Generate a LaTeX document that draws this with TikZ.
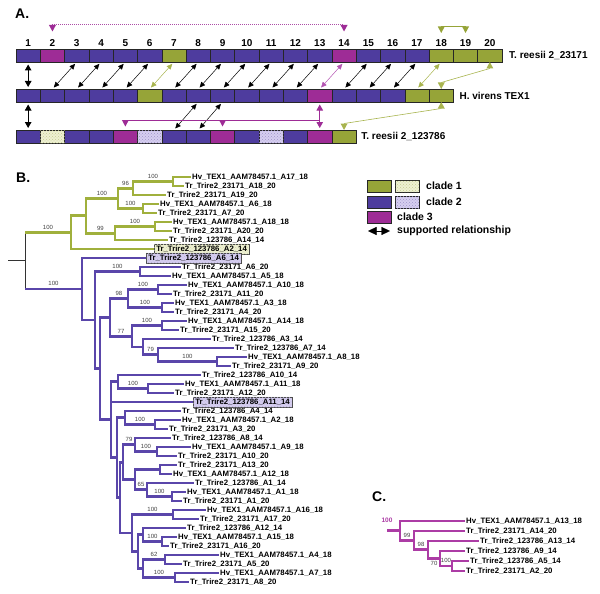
\documentclass[tikz,border=0pt]{standalone}
\usepackage{fontspec}
\setmainfont{Liberation Sans}
\usetikzlibrary{positioning,arrows.meta,patterns,calc}
\definecolor{cladeG}{RGB}{150,164,56}
\definecolor{cladeP}{RGB}{78,60,158}
\definecolor{cladeM}{RGB}{158,44,150}
\definecolor{treeG}{RGB}{160,176,60}
\definecolor{treeP}{RGB}{90,70,170}
\definecolor{treeM}{RGB}{172,60,165}
\definecolor{paleG}{RGB}{238,240,210}
\definecolor{paleP}{RGB}{214,206,240}
\definecolor{arrG}{RGB}{168,180,78}
\definecolor{arrM}{RGB}{180,84,178}

\begin{document}
\begin{tikzpicture}[x=1pt,y=-1pt,
  seg/.style={draw=black!85,line width=0.6pt,minimum width=24.3pt,minimum height=13pt,inner sep=0pt,outer sep=0pt},
  key/.style={seg,minimum width=24pt,minimum height=12pt},
  num/.style={font=\fontsize{10}{11}\selectfont\bfseries,inner sep=0pt},
  rowlab/.style={font=\fontsize{10}{11}\selectfont\bfseries,inner sep=0pt},
  legtxt/.style={font=\fontsize{10.5}{12}\selectfont\bfseries,inner sep=0pt,anchor=west},
  panel/.style={font=\fontsize{14}{15}\selectfont\bfseries,inner sep=0pt,anchor=west},
  link/.style={{Triangle[length=5.5pt,width=5pt]}-{Triangle[length=5.5pt,width=5pt]},line width=0.5pt,shorten <=2.5pt,shorten >=2pt},
  biglink/.style={{Triangle[length=6pt,width=6.5pt]}-{Triangle[length=6pt,width=6.5pt]},line width=1pt,shorten <=2.5pt,shorten >=2pt},
  hang/.pic={\fill (-3.5,0) -- (3.5,0) -- (0,6.5) -- cycle;},
  lift/.pic={\fill (-3.5,0) -- (3.5,0) -- (0,-6.5) -- cycle;},
  leaf/.style={font=\fontsize{7.8}{8}\selectfont\bfseries,inner sep=1pt,anchor=west,text height=5.6pt,text depth=0.4pt},
  hlG/.style={leaf,draw=black!70,line width=0.5pt,fill=paleG,inner xsep=2pt,inner ysep=2.2pt,postaction={pattern=crosshatch dots,pattern color=cladeG!40}},
  hlP/.style={leaf,draw=black!70,line width=0.5pt,fill=paleP,inner xsep=2pt,inner ysep=2.2pt,postaction={pattern=crosshatch dots,pattern color=cladeP!40}},
  bs/.style={font=\fontsize{6}{6.5}\selectfont,text=black!75,inner sep=0.5pt,above=1.2pt},
  bsr/.style={font=\fontsize{6.5}{7}\selectfont\bfseries,inner sep=0.5pt},
  brG/.style={treeG,line width=2.7pt},
  brP/.style={treeP,line width=2.7pt},
  brM/.style={treeM,line width=2.7pt}]
  \useasboundingbox (0,0) rectangle (600,594);

  \begin{scope}
   \node[panel] (labA) at (15,14) {A.};
   \foreach \i/\c in {1/cladeP,2/cladeM,3/cladeP,4/cladeP,5/cladeP,6/cladeP,7/cladeG,8/cladeP,9/cladeP,10/cladeP,11/cladeP,12/cladeP,13/cladeP,14/cladeM,15/cladeP,16/cladeP,17/cladeP,18/cladeG,19/cladeG,20/cladeG}
     \node[seg,fill=\c] (a\i) at ({16+(\i-0.5)*24.3},55.5) {};
   \foreach \i/\c in {1/cladeP,2/cladeP,3/cladeP,4/cladeP,5/cladeP,6/cladeG,7/cladeP,8/cladeP,9/cladeP,10/cladeP,11/cladeP,12/cladeP,13/cladeM,14/cladeP,15/cladeP,16/cladeP,17/cladeG,18/cladeG}
     \node[seg,fill=\c] (b\i) at ({16+(\i-0.5)*24.3},95.5) {};
   \foreach \i/\c in {1/cladeP,2/paleG,3/cladeP,4/cladeP,5/cladeM,6/paleP,7/cladeP,8/cladeP,9/cladeM,10/cladeP,11/paleP,12/cladeP,13/cladeM,14/cladeG}
     \node[seg,fill=\c] (c\i) at ({16+(\i-0.5)*24.3},136.5) {};
   \foreach \i/\c in {2/cladeG,6/cladeP,11/cladeP}
     \fill[pattern=crosshatch dots,pattern color=\c!55] (c\i.north west) rectangle (c\i.south east);
   \foreach \i in {1,...,20}
     \node[num,above=2pt of a\i] {\i};
   \node[rowlab,right=7pt of a20] {T. reesii 2\_23171};
   \node[rowlab,right=6pt of b18] {H. virens TEX1};
   \node[rowlab,right=5pt of c14] {T. reesii 2\_123786};

   \draw[biglink] (a1.south) -- (b1.north);
   \draw[biglink] (b1.south) -- (c1.north);
   \foreach \k/\j in {3/2,4/3,5/4,6/5,8/7,9/8,10/9,11/10,12/11,13/12,15/14,16/15,17/16}
     \draw[link] (a\k.south) -- (b\j.north);
   \draw[link,arrG] (a7.south) -- (b6.north);
   \draw[link,arrG] (a18.south) -- (b17.north);
   \draw[link,arrM] (a14.south) -- (b13.north);
   \foreach \k/\j in {8/7,9/8}
     \draw[link] (b\k.south) -- (c\j.north);
   \draw[biglink,cladeM] (b13.south) -- (c13.north);

   \coordinate (m2) at ($(a2)+(0,-30.5)$);
   \coordinate (m14) at ($(a14)+(0,-30.5)$);
   \draw[cladeM!85,line width=1pt,dash pattern=on 1pt off 1pt] (m2) -- (m14);
   \pic[cladeM] at (m2) {hang};
   \pic[cladeM] at (m14) {hang};
   \coordinate (g18) at ($(a18)+(0,-29)$);
   \coordinate (g19) at ($(a19)+(0,-29)$);
   \draw[cladeG,line width=1pt] (g18) -- (g19);
   \pic[cladeG] at (g18) {hang};
   \pic[cladeG] at (g19) {hang};
   \coordinate (h5) at ($(c5)+(0,-16.5)$);
   \coordinate (h9) at ($(c9)+(0,-16.5)$);
   \coordinate (h13) at ($(c13)+(0,-16.5)$);
   \draw[cladeM,line width=0.9pt] (h5) -- (h13);
   \pic[cladeM] at (h5) {hang};
   \pic[cladeM] at (h9) {hang};

   \coordinate (e20) at ($(a20.south)+(0,6.5)$);
   \coordinate (f18) at ($(b18.north)+(0,-6.5)$);
   \draw[arrG,line width=0.6pt] (e20) -- (f18);
   \pic[arrG] at (e20) {lift};
   \pic[arrG] at (f18) {hang};
   \coordinate (e18) at ($(b18.south)+(0,6.5)$);
   \coordinate (f14) at ($(c14.north)+(0,-6.5)$);
   \draw[arrG,line width=0.6pt] (e18) -- (f14);
   \pic[arrG] at (e18) {lift};
   \pic[arrG] at (f14) {hang};
  \end{scope}

  \begin{scope}
   \node[panel] (labB) at (16,178) {B.};
   \node[key,fill=cladeG] (key1) at (379,186) {};
   \node[key,fill=paleG,right=4pt of key1] (key1d) {};
   \node[legtxt,right=7pt of key1d] {clade 1};
   \node[key,fill=cladeP] (key2) at (379,202) {};
   \node[key,fill=paleP,right=4pt of key2] (key2d) {};
   \node[legtxt,right=7pt of key2d] {clade 2};
   \node[key,fill=cladeM] (key3) at (379,217) {};
   \node[legtxt,right=6pt of key3] {clade 3};
   \foreach \n/\c in {key1d/cladeG,key2d/cladeP}
     \fill[pattern=crosshatch dots,pattern color=\c!55] (\n.north west) rectangle (\n.south east);
   \coordinate (key4a) at (368,231);
   \coordinate (key4b) at (390,231);
   \draw[{Triangle[length=8.5pt,width=8pt]}-{Triangle[length=8.5pt,width=8pt]},line width=0.3pt] (key4a) -- (key4b);
   \node[legtxt,right=7pt of key4b] {supported relationship};

   \foreach \n/\x/\t in {1/191/Hv\_TEX1\_AAM78457.1\_A17\_18,2/184/Tr\_Trire2\_23171\_A18\_20,
     3/166/Tr\_Trire2\_23171\_A19\_20,4/159/Hv\_TEX1\_AAM78457.1\_A6\_18,5/157/Tr\_Trire2\_23171\_A7\_20,
     6/172/Hv\_TEX1\_AAM78457.1\_A18\_18,7/172/Tr\_Trire2\_23171\_A20\_20,8/168/Tr\_Trire2\_123786\_A14\_14,
     11/181/Tr\_Trire2\_23171\_A6\_20,12/171/Hv\_TEX1\_AAM78457.1\_A5\_18,13/187/Hv\_TEX1\_AAM78457.1\_A10\_18,
     14/172/Tr\_Trire2\_23171\_A11\_20,15/174/Hv\_TEX1\_AAM78457.1\_A3\_18,16/174/Tr\_Trire2\_23171\_A4\_20,
     17/187/Hv\_TEX1\_AAM78457.1\_A14\_18,18/179/Tr\_Trire2\_23171\_A15\_20,19/211/Tr\_Trire2\_123786\_A3\_14,
     20/234/Tr\_Trire2\_123786\_A7\_14,21/247/Hv\_TEX1\_AAM78457.1\_A8\_18,22/231/Tr\_Trire2\_23171\_A9\_20,
     23/201/Tr\_Trire2\_123786\_A10\_14,24/184/Hv\_TEX1\_AAM78457.1\_A11\_18,25/174/Tr\_Trire2\_23171\_A12\_20,
     27/181/Tr\_Trire2\_123786\_A4\_14,28/181/Hv\_TEX1\_AAM78457.1\_A2\_18,29/168/Tr\_Trire2\_23171\_A3\_20,
     30/171/Tr\_Trire2\_123786\_A8\_14,31/191/Hv\_TEX1\_AAM78457.1\_A9\_18,32/177/Tr\_Trire2\_23171\_A10\_20,
     33/177/Tr\_Trire2\_23171\_A13\_20,34/172/Hv\_TEX1\_AAM78457.1\_A12\_18,35/194/Tr\_Trire2\_123786\_A1\_14,
     36/186/Hv\_TEX1\_AAM78457.1\_A1\_18,37/182/Tr\_Trire2\_23171\_A1\_20,38/206/Hv\_TEX1\_AAM78457.1\_A16\_18,
     39/199/Tr\_Trire2\_23171\_A17\_20,40/186/Tr\_Trire2\_123786\_A12\_14,41/177/Hv\_TEX1\_AAM78457.1\_A15\_18,
     42/169/Tr\_Trire2\_23171\_A16\_20,43/219/Hv\_TEX1\_AAM78457.1\_A4\_18,44/182/Tr\_Trire2\_23171\_A5\_20,
     45/219/Hv\_TEX1\_AAM78457.1\_A7\_18,46/189/Tr\_Trire2\_23171\_A8\_20}
     \node[leaf] (l\n) at (\x,{168+9*\n}) {\t};
   \node[hlG] (l9) at (154,249) {Tr\_Trire2\_123786\_A2\_14};
   \node[hlP] (l10) at (146,258) {Tr\_Trire2\_123786\_A6\_14};
   \node[hlP] (l26) at (193,402) {Tr\_Trire2\_123786\_A11\_14};

   \coordinate (R0) at (8,260.7);
   \coordinate (R) at (25,260.7);
   \coordinate (gG) at (71,232.4);
   \coordinate (gA) at (86,215.8);
   \coordinate (gB) at (118,198.4);
   \coordinate (gD) at (133,188.25);
   \coordinate (g12) at (173,181.5);
   \coordinate (gE) at (143,208.5);
   \coordinate (gC) at (115,233.25);
   \coordinate (gF) at (155,226.5);
   \coordinate (pP) at (82,289);
   \coordinate (pQ) at (95,320);
   \coordinate (pS) at (140,271.5);
   \coordinate (pX) at (100,368.5);
   \coordinate (pW) at (110,317.3);
   \coordinate (pU) at (128,298.5);
   \coordinate (pa) at (158,289.5);
   \coordinate (pb) at (162,307.5);
   \coordinate (pV) at (132,336.2);
   \coordinate (pc) at (162,325.5);
   \coordinate (pd) at (143,346.9);
   \coordinate (pe) at (158,354.75);
   \coordinate (pf) at (217,361.5);
   \coordinate (pM) at (111,419.7);
   \coordinate (pZ) at (118,381.75);
   \coordinate (pg) at (148,388.5);
   \coordinate (pN) at (117,457.7);
   \coordinate (pN1) at (125,417.75);
   \coordinate (ph) at (155,424.5);
   \coordinate (pN4) at (120,497.6);
   \coordinate (pN3) at (123,462.2);
   \coordinate (pN2) at (135,444.75);
   \coordinate (pi) at (157,451.5);
   \coordinate (pN6) at (135,479.6);
   \coordinate (pj) at (160,469.5);
   \coordinate (pk) at (147,489.75);
   \coordinate (pl) at (172,496.5);
   \coordinate (pN5) at (132,533.1);
   \coordinate (pm) at (173,514.5);
   \coordinate (pN7) at (138,551.6);
   \coordinate (pn) at (143,534.75);
   \coordinate (po) at (162,541.5);
   \coordinate (pq) at (143,568.5);
   \coordinate (pr) at (165,559.5);
   \coordinate (ps) at (175,577.5);

   \draw[black!80,line width=1.2pt] (R0) -- (R);
   \draw[black!80,line width=0.8pt] (R |- gG) -- (R |- pP);
   \draw[brG] (R |- gG) -- node[bs]{100} (gG);
   \draw[brP] (R |- pP) -- node[bs]{100} (pP);
   \foreach \p/\c in {gG/gA,gG/l9.west,gD/l3.west,g12/l1.west,g12/l2.west,gE/l4.west,gE/l5.west,gC/l8.west,gF/l6.west,gF/l7.west}
     \draw[brG] (\p) |- (\c);
   \foreach \p/\c/\b in {gA/gB/100,gA/gC/99,gB/gD/96,gB/gE/100,gD/g12/100,gC/gF/100}
     \draw[brG] (\p) |- node[bs,pos=.75]{\b} (\c);
   \foreach \p/\c in {pP/l10.west,pP/pQ,pQ/pX,pS/l11.west,pS/l12.west,pX/pW,pX/pM,pa/l13.west,pa/l14.west,
     pb/l15.west,pb/l16.west,pc/l17.west,pc/l18.west,pV/pd,pd/l19.west,pe/l20.west,pf/l21.west,pf/l22.west,
     pM/pZ,pM/l26.west,pM/pN,pZ/l23.west,pg/l24.west,pg/l25.west,pN/pN1,pN/pN4,pN1/l27.west,ph/l28.west,
     ph/l29.west,pN4/pN3,pN4/pN5,pN3/pN6,pN2/l30.west,pi/l31.west,pi/l32.west,pN6/pj,pj/l33.west,pj/l34.west,
     pk/l35.west,pl/l36.west,pl/l37.west,pN5/pN7,pm/l38.west,pm/l39.west,pN7/pn,pN7/pq,pn/l40.west,
     po/l41.west,po/l42.west,pr/l43.west,pr/l44.west,ps/l45.west,ps/l46.west}
     \draw[brP] (\p) |- (\c);
   \foreach \p/\c/\b in {pQ/pS/100,pW/pU/98,pW/pV/77,pU/pa/100,pU/pb/100,pV/pc/100,pd/pe/79,pe/pf/100,
     pZ/pg/100,pN1/ph/100,pN3/pN2/79,pN2/pi/100,pN6/pk/65,pk/pl/100,pN5/pm/100,pn/po/100,pq/pr/62,pq/ps/100}
     \draw[brP] (\p) |- node[bs,pos=.75]{\b} (\c);
  \end{scope}

  \begin{scope}
   \node[panel] (labC) at (372,497) {C.};
   \foreach \n/\x/\t in {1/465/Hv\_TEX1\_AAM78457.1\_A13\_18,2/465/Tr\_Trire2\_23171\_A14\_20,
     3/479/Tr\_Trire2\_123786\_A13\_14,4/465/Tr\_Trire2\_123786\_A9\_14,5/469/Tr\_Trire2\_123786\_A5\_14,
     6/465/Tr\_Trire2\_23171\_A2\_20}
     \node[leaf] (q\n) at (\x,{511+10*\n}) {\t};
   \coordinate (q0) at (387,530.7);
   \coordinate (qr) at (400,530.7);
   \coordinate (qa) at (414,540.4);
   \coordinate (qb) at (428,549.75);
   \coordinate (qc) at (440,558.5);
   \coordinate (qd) at (452,566);
   \draw[brM] (q0) -- node[bsr,pos=0,above=6pt]{100} (qr);
   \foreach \p/\c in {qr/q1.west,qa/q2.west,qb/q3.west,qc/q4.west,qd/q5.west,qd/q6.west}
     \draw[brM] (\p) |- (\c);
   \foreach \p/\c/\b in {qr/qa/99,qa/qb/98,qc/qd/100}
     \draw[brM] (\p) |- node[bs,pos=.75]{\b} (\c);
   \draw[brM] (qb) |- node[bs,below=1.2pt,pos=.75]{70} (qc);
  \end{scope}
\end{tikzpicture}
\end{document}
